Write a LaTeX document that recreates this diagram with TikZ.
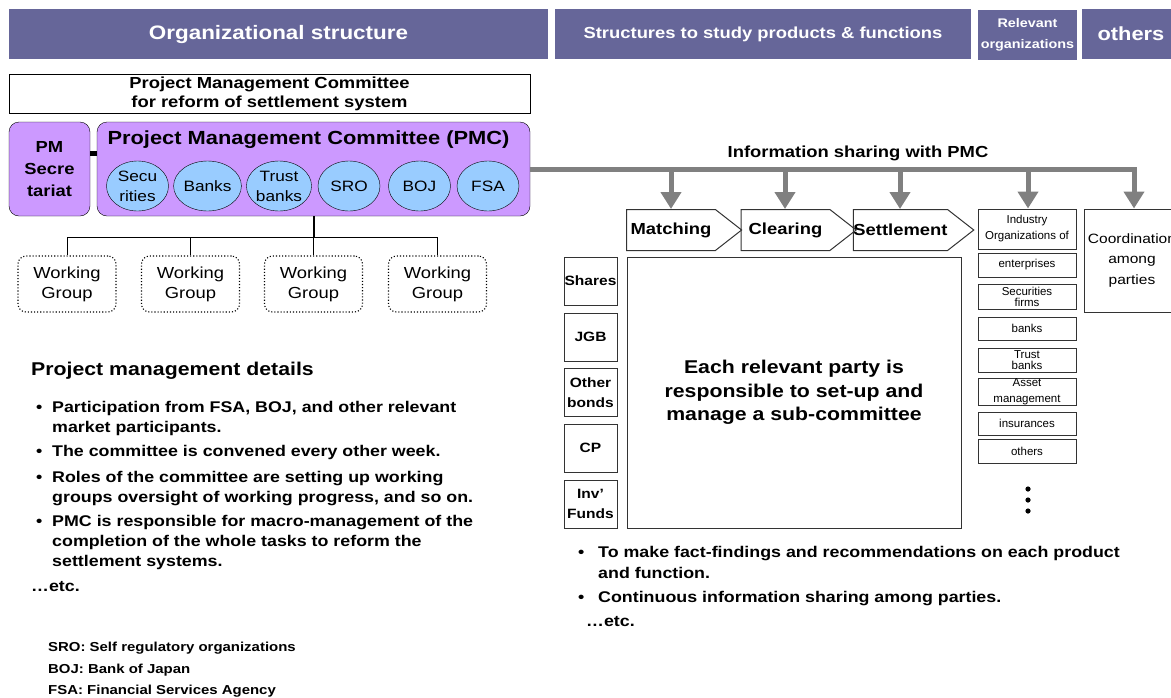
\documentclass[tikz,border=0pt]{standalone}
\usepackage{fontspec}
\setmainfont{Liberation Sans}[FakeStretch=1.15]
\newfontfamily\plainsans{Liberation Sans}
\usetikzlibrary{arrows.meta, shapes.geometric, shapes.symbols}
\definecolor{BarBlue}{RGB}{102,102,153}
\definecolor{PMCViolet}{RGB}{204,153,255}
\definecolor{MemberBlue}{RGB}{153,204,255}
\definecolor{ShareGray}{RGB}{128,128,128}
\colorlet{boxline}{black!80}
\newcommand{\fsz}[2]{\fontsize{#1}{#2}\selectfont}
\newcommand{\bul}[2][16pt]{\begin{tabular}[t]{@{}p{#1}@{}l@{}}\textbullet & #2\end{tabular}}

\tikzset{
  headbar/.style = {rectangle, fill=BarBlue, text=white, minimum height=50pt, inner sep=0pt, align=center},
  pmbox/.style = {draw, rectangle, rounded corners=10pt, fill=PMCViolet, minimum height=94pt, inner sep=0pt, align=center},
  member/.style = {draw, ellipse, fill=MemberBlue, minimum width=62pt, minimum height=50pt, inner sep=0pt, align=center, font=\fsz{15}{20}},
  wgbox/.style = {draw, dotted, line width=1.1pt, rounded corners=8pt, minimum width=98pt, minimum height=56pt, align=center, font=\fsz{16}{20}},
  stage/.style = {draw=boxline, line width=1pt, signal, signal to=east, signal pointer angle=76, minimum width=115pt, minimum height=41pt, inner sep=0pt, font=\bfseries\fsz{16}{20}},
  product/.style = {draw=boxline, line width=1pt, minimum width=53pt, minimum height=48pt, inner sep=0pt, align=center, font=\bfseries\fsz{13.5}{20}},
  industry/.style = {draw=boxline, line width=1pt, minimum width=98pt, inner sep=0pt, align=center, font=\plainsans\fsz{11.5}{16}},
  listtext/.style = {anchor=base west, inner sep=0pt, font=\bfseries\fsz{15.5}{20}},
  share/.style = {draw=ShareGray, line width=5pt, -{Triangle[width=20pt, length=17pt]}}
}

\begin{document}
\begin{tikzpicture}[x=1pt, y=-1pt]
  \useasboundingbox (0,0) rectangle (1171,697);
  \clip (0,0) rectangle (1171,697);

  \node[headbar, minimum width=539pt, font=\bfseries\fsz{19.5}{22}] at (278.5,34) (hOrg) {Organizational structure};
  \node[headbar, minimum width=416pt, font=\bfseries\fsz{16}{20}] at (763,34) (hStudy) {Structures to study products \& functions};
  \node[headbar, minimum width=99pt, font=\bfseries\fsz{12.5}{21}] at (1027.5,35) (hRel) {Relevant\\organizations};
  \node[headbar, minimum width=98pt, font=\bfseries\fsz{19}{22}] at (1131,34) (hOth) {others};

  \node[draw, rectangle, minimum width=521pt, minimum height=39pt, inner sep=0pt, align=center, font=\bfseries\fsz{16}{19}] at (269.5,94) (reform) {Project Management Committee\\for reform of settlement system};

  \node[pmbox, minimum width=81pt, font=\bfseries\fsz{16}{22}] at (49.5,169) (pmsec) {PM\\Secre\\tariat};
  \node[pmbox, minimum width=433pt] at (313.5,169) (pmc) {};
  \draw[line width=5pt] ([yshift=16pt]pmsec.east) -- ([yshift=16pt]pmc.west);
  \node[font=\bfseries\fsz{19}{22}] at (308.5,140) (pmcTitle) {Project Management Committee (PMC)};

  \node[member] at (137.5,186) (mSec) {Secu\\rities};
  \node[member] at (207.5,186) (mBank) {Banks};
  \node[member] at (279,186) (mTrust) {Trust\\banks};
  \node[member] at (349,186) (mSRO) {SRO};
  \node[member] at (419.5,186) (mBOJ) {BOJ};
  \node[member] at (488,186) (mFSA) {FSA};

  \node[wgbox] at (67,284) (wg1) {Working\\Group};
  \node[wgbox] at (190.5,284) (wg2) {Working\\Group};
  \node[wgbox] at (313.5,284) (wg3) {Working\\Group};
  \node[wgbox] at (437.5,284) (wg4) {Working\\Group};
  \coordinate (fork) at (313.5,237);
  \draw[line width=2pt] (pmc.south) -- (fork);
  \foreach \w in {wg1,wg2,wg3,wg4}
    \draw[line width=0.9pt] (fork) -| (\w.north);

  \node[anchor=base west, inner sep=0pt, font=\bfseries\fsz{18.5}{22}] at (31,375.6) (pmd) {Project management details};
  \node[listtext] at (36,412.5) (pmd1) {\bul{Participation from FSA, BOJ, and other relevant\\ & market participants.}};
  \node[listtext] at (36,456.5) (pmd2) {\bul{The committee is convened every other week.}};
  \node[listtext] at (36,482.5) (pmd3) {\bul{Roles of the committee are setting up working\\ & groups oversight of working progress, and so on.}};
  \node[listtext] at (36,526.5) (pmd4) {\bul{PMC is responsible for macro-management of the\\ & completion of the whole tasks to reform the\\ & settlement systems.}};
  \node[listtext] at (31,591.5) (pmdEtc) {\dots etc.};

  \node[anchor=base west, inner sep=0pt, font=\bfseries\fsz{13}{21.5}] at (48,651.7) (abbr) {\begin{tabular}[t]{@{}l@{}}SRO: Self regulatory organizations\\BOJ: Bank of Japan\\FSA: Financial Services Agency\end{tabular}};

  \node[font=\bfseries\fsz{16}{20}] at (858,153) (infoLbl) {Information sharing with PMC};

  \node[stage] at (671,230) (match) {Matching};
  \node[stage] at (785.5,230) (clear) {Clearing};
  \node[stage] at (900.5,230) (settle) {Settlement};

  \node[product] at (590.5,281) (pShares) {Shares};
  \node[product] at (590.5,337) (pJGB) {JGB};
  \node[product] at (590.5,392.5) (pOther) {Other\\bonds};
  \node[product] at (590.5,448) (pCP) {CP};
  \node[product] at (590.5,504) (pFund) {Inv'\\Funds};

  \node[draw=boxline, line width=1pt, minimum width=334pt, minimum height=271pt, inner sep=0pt, align=center, font=\bfseries\fsz{18.5}{23.5}] at (794,392.5) (party) {Each relevant party is\\responsible to set-up and\\manage a sub-committee};

  \node[industry, minimum height=40pt] at (1027,229) (iOrg) {Industry\\Organizations of};
  \node[industry, minimum height=24pt] at (1027,265) (iEnt) {enterprises};
  \node[industry, minimum height=25pt, font=\plainsans\fsz{11.5}{11}] at (1027,296.5) (iSec) {Securities\\firms};
  \node[industry, minimum height=23pt] at (1027,328.5) (iBank) {banks};
  \node[industry, minimum height=24pt, font=\plainsans\fsz{11.5}{11}] at (1027,360) (iTrust) {Trust\\banks};
  \node[industry, minimum height=24pt] at (1027,392) (iAsset) {Asset\\management};
  \node[industry, minimum height=23pt] at (1027,423.5) (iIns) {insurances};
  \node[industry, minimum height=24pt] at (1027,451) (iOth) {others};
  \fill (1028,489) circle (2.6pt) (1028,500) circle (2.6pt) (1028,511) circle (2.6pt);

  \node[draw=boxline, line width=1pt, minimum width=96pt, minimum height=103pt, inner sep=0pt, align=center, font=\fsz{13.5}{20.5}] at (1132,260.5) (coord) {Coordination\\among\\parties};

  \coordinate (a1) at (671,169);
  \coordinate (a2) at (785,169);
  \coordinate (a3) at (900,169);
  \coordinate (a4) at (1028,169);
  \coordinate (a5) at (1134,169);
  \draw[share] (pmc.east) -- (a5) -- (a5 |- coord.north);
  \draw[share] (a1) -- (a1 |- match.north);
  \draw[share] (a2) -- (a2 |- clear.north);
  \draw[share] (a3) -- (a3 |- settle.north);
  \draw[share] (a4) -- (a4 |- iOrg.north);

  \node[listtext, font=\bfseries\fsz{15.5}{21}] at (578,557.4) (task1) {\bul[20pt]{To make fact-findings and recommendations on each product\\ & and function.}};
  \node[listtext, font=\bfseries\fsz{15.5}{21}] at (578,602.4) (task2) {\bul[20pt]{Continuous information sharing among parties.}};
  \node[listtext, font=\bfseries\fsz{15.5}{21}] at (586,626.4) (taskEtc) {\dots etc.};
\end{tikzpicture}
\end{document}
